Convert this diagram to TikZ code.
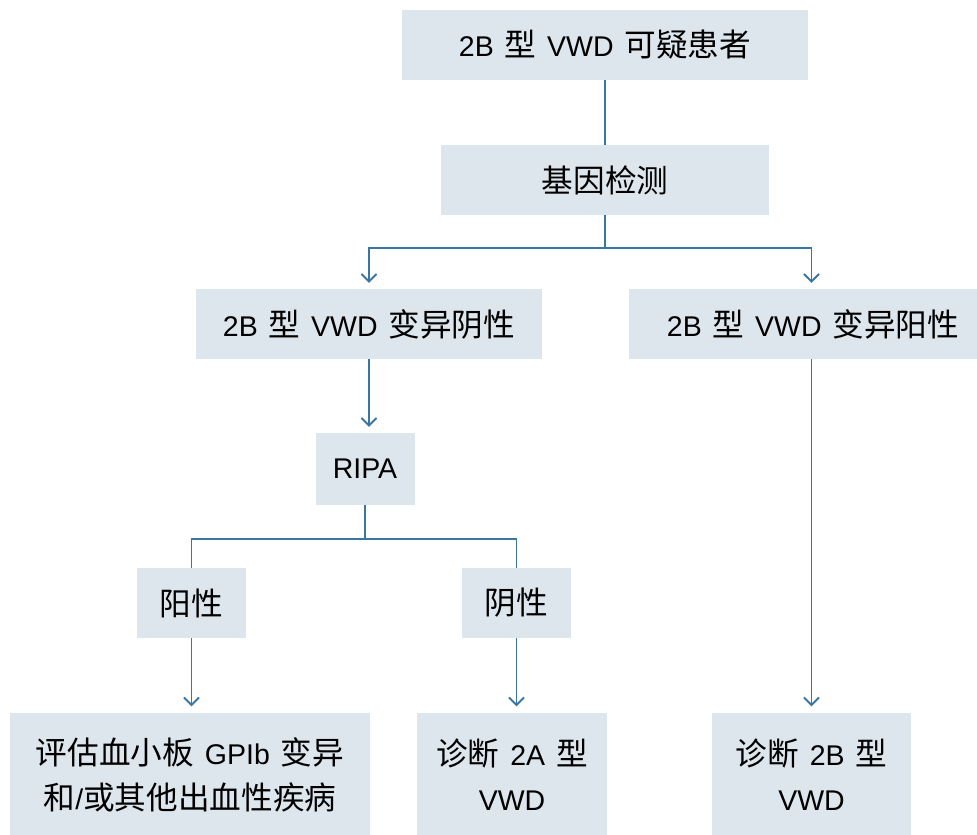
\documentclass[tikz,border=0pt]{standalone}
\usepackage{fontspec}
\setmainfont{Liberation Sans}
\newfontfamily\cjk{Noto Sans CJK SC}[Scale=1.11]
\newcommand{\zh}[1]{{\cjk #1}}
\newcommand{\boxfont}{\fontsize{28.5}{45}\selectfont\spaceskip=0.38em\relax}
\usetikzlibrary{arrows.meta}
\definecolor{boxfill}{HTML}{DDE6EC}
\definecolor{linec}{HTML}{3A76A2}
\begin{document}
\begin{tikzpicture}[x=1pt,y=-1pt,
  box/.style={fill=boxfill,draw=none,inner sep=0pt,align=center,font=\boxfont},
  conn/.style={draw=linec,line width=1.9pt},
  arr/.style={conn,-{Straight Barb[length=7.5pt,width=15pt,line width=1.9pt]},shorten >=6pt}]
\useasboundingbox (0,0) rectangle (977,835);
\node[box,minimum width=406pt,minimum height=70pt] (top) at (605,45) {2B \zh{型} VWD \zh{可疑患者}};
\node[box,minimum width=328pt,minimum height=70pt] (gene) at (605,180) {\zh{基因检测}};
\node[box,minimum width=346pt,minimum height=70pt] (neg) at (369,324) {2B \zh{型} VWD \zh{变异阴性}};
\node[box,minimum width=348pt,minimum height=70pt] (pos) at (803,324) {\hspace*{20pt}2B \zh{型} VWD \zh{变异阳性}};
\node[box,minimum width=99pt,minimum height=72pt] (ripa) at (365,469) {RIPA};
\node[box,minimum width=109pt,minimum height=70pt] (yang) at (191.5,603) {\zh{阳性}};
\node[box,minimum width=109pt,minimum height=70pt] (yin) at (516.5,603) {\zh{阴性}};
\node[box,minimum width=360pt,minimum height=125pt] (eval) at (190,775) {\zh{评估血小板} GPIb \zh{变异}\\\zh{和}/\zh{或其他出血性疾病}};
\node[box,minimum width=190pt,minimum height=125pt] (d2a) at (512,775) {\zh{诊断} 2A \zh{型}\\VWD};
\node[box,minimum width=199pt,minimum height=125pt] (d2b) at (811.5,775) {\zh{诊断} 2B \zh{型}\\VWD};
\coordinate (j1) at (605,248);
\coordinate (j2) at (365,539);
\draw[conn] (top.south) -- (gene.north);
\draw[conn] (gene.south) -- (j1);
\draw[arr] (j1) -| (neg.north);
\draw[arr] (j1) -| (d2b.north |- pos.north);
\draw[arr] (neg.south) -- (neg.south |- ripa.north);
\draw[arr] (pos.south -| d2b.north) -- (d2b.north);
\draw[conn] (ripa.south) -- (j2);
\draw[conn] (j2) -| (yang.north);
\draw[conn] (j2) -| (yin.north);
\draw[arr] (yang.south) -- (yang.south |- eval.north);
\draw[arr] (yin.south) -- (yin.south |- d2a.north);
\end{tikzpicture}
\end{document}
